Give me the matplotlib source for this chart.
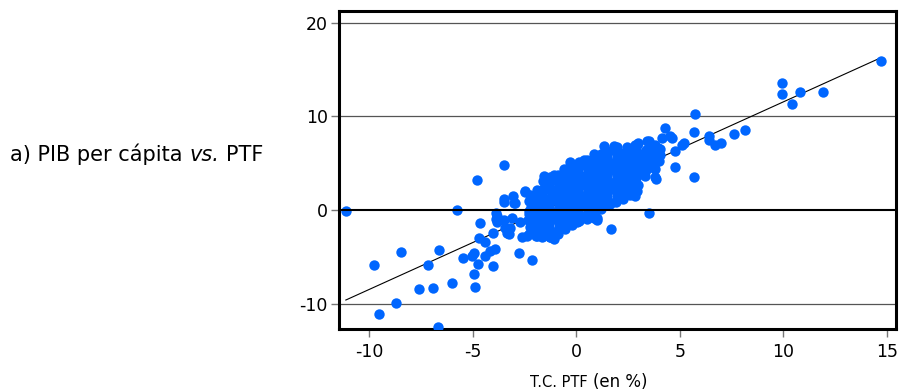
import matplotlib
matplotlib.use("Agg")
import matplotlib.pyplot as plt

plt.rcParams["font.family"] = ["DejaVu Sans"]
plt.rcParams["axes.unicode_minus"] = False

# Tasa de crecimiento de la PTF (x) frente a la del PIB per cápita (y), en %
tail_low = [
    (-11.13, -0.05), (-9.79, -5.85), (-9.51, -11.05), (-8.71, -9.95), (-8.47, -4.5),
    (-7.62, -8.45), (-6.94, -8.3), (-7.17, -5.8), (-6.65, -4.2), (-6.69, -12.5),
    (-6.02, -7.8), (-5.76, 0.0), (-4.8, 3.2), (-4.88, -8.2), (-4.96, -6.8),
    (-4.64, -1.4), (-5.47, -5.1), (-5.04, -4.85), (-4.93, -4.6), (-4.75, -5.7),
    (-4.72, -3.0), (-4.4, -3.4), (-4.43, -4.85), (-4.04, -6.0), (-3.95, -4.1),
    (-4.15, -4.3), (-4.0, -2.4), (-3.9, -0.96), (-3.9, -0.25), (-3.5, 0.9),
    (-3.06, 1.5), (-2.95, 0.75), (-2.5, 1.95), (-2.75, -4.6), (-2.16, -5.3),
    (-3.5, -1.1), (-3.2, -1.85), (-3.35, -2.4), (-2.6, -2.9), (-3.1, -0.8),
    (-3.5, 4.85), (-3.5, 1.2), (-3.03, 0.8), (-3.83, -0.6), (-3.83, -1.3),
    (-3.43, -1.85), (-3.27, -2.55), (-2.7, -1.3), (-2.38, -2.7), (-2.06, -0.6),
    (-2.3, -0.07), (-2.14, -2.0),
]

core = [
    (-0.29, 5.1), (0.84, 6.0), (1.48, 6.3), (1.97, 6.7), (2.85, 7.0), (3.4, 7.4),
    (-0.45, 4.4), (-1.26, 3.5), (-1.74, 1.9), (-2.46, 2.05), (0.35, 5.4), (-0.61, 4.4),
    (-1.1, 3.8), (-1.58, 3.65), (1.32, 6.85),
    (-1.66, -2.9), (-0.93, -2.4), (0.03, -1.1), (1.0, -0.8), (-1.26, -2.2), (-1.6, -2.7),
    (0.03, -1.3), (1.0, -1.0), (-0.29, -0.6), (-1.1, -3.1), (-1.58, -2.4), (-1.26, -2.9),
    (-1.9, -2.7), (-1.42, -2.4), (-1.58, -0.25), (-1.74, 1.2), (-1.1, 2.2),
    (-2.3, -2.5), (-2.25, -1.8), (-2.35, -1.1), (-2.3, -0.4), (-2.2, 0.3), (-2.3, 1.0),
    (-2.25, 1.6),
    (-1.95, -2.8), (-1.9, -2.1), (-2.0, -1.4), (-1.95, -0.7), (-1.9, 0.0), (-2.0, 0.7),
    (-1.95, 1.4), (-1.9, 2.1),
    (-1.6, -2.5), (-1.55, -1.8), (-1.65, -1.1), (-1.6, -0.4), (-1.55, 0.3), (-1.6, 1.0),
    (-1.65, 1.7), (-1.55, 2.4), (-1.6, 3.1),
    (-1.25, -2.9), (-1.2, -2.2), (-1.3, -1.5), (-1.25, -0.8), (-1.2, -0.1), (-1.3, 0.6),
    (-1.25, 1.3), (-1.2, 2.0), (-1.3, 2.7), (-1.25, 3.4),
    (-0.9, -2.5), (-0.85, -1.8), (-0.95, -1.1), (-0.9, -0.4), (-0.85, 0.3), (-0.95, 1.0),
    (-0.9, 1.7), (-0.85, 2.4), (-0.95, 3.1), (-0.9, 3.8),
    (-0.55, -2.0), (-0.5, -1.3), (-0.6, -0.6), (-0.55, 0.1), (-0.5, 0.8), (-0.6, 1.5),
    (-0.55, 2.2), (-0.5, 2.9), (-0.6, 3.6), (-0.55, 4.3),
    (-0.2, -1.6), (-0.15, -0.9), (-0.25, -0.2), (-0.2, 0.5), (-0.15, 1.2), (-0.25, 1.9),
    (-0.2, 2.6), (-0.15, 3.3), (-0.25, 4.0), (-0.2, 4.7),
    (0.15, -1.2), (0.2, -0.5), (0.1, 0.2), (0.15, 0.9), (0.2, 1.6), (0.1, 2.3),
    (0.15, 3.0), (0.2, 3.7), (0.1, 4.4), (0.15, 5.1),
    (0.5, -0.9), (0.55, -0.2), (0.45, 0.5), (0.5, 1.2), (0.55, 1.9), (0.45, 2.6),
    (0.5, 3.3), (0.55, 4.0), (0.45, 4.7), (0.5, 5.4),
    (0.85, -0.8), (0.9, -0.1), (0.8, 0.6), (0.85, 1.3), (0.9, 2.0), (0.8, 2.7),
    (0.85, 3.4), (0.9, 4.1), (0.8, 4.8), (0.85, 5.5),
    (1.2, 0.1), (1.25, 0.6), (1.15, 1.1), (1.2, 1.8), (1.25, 2.5), (1.15, 3.2),
    (1.2, 3.9), (1.25, 4.6), (1.15, 5.3), (1.2, 6.0),
    (1.55, 0.6), (1.6, 0.9), (1.5, 1.6), (1.55, 2.3), (1.6, 3.0), (1.5, 3.7),
    (1.55, 4.4), (1.6, 5.1), (1.5, 5.8),
    (1.9, 0.9), (1.95, 1.4), (1.85, 2.1), (1.9, 2.8), (1.95, 3.5), (1.85, 4.2),
    (1.9, 4.9), (1.95, 5.6), (1.85, 6.3),
    (2.25, 1.2), (2.3, 1.9), (2.2, 2.6), (2.25, 3.3), (2.3, 4.0), (2.2, 4.7),
    (2.25, 5.4), (2.3, 6.1),
    (2.6, 1.6), (2.65, 2.3), (2.55, 3.0), (2.6, 3.7), (2.65, 4.4), (2.55, 5.1),
    (2.6, 5.8), (2.65, 6.5),
    (2.95, 2.0), (3.0, 2.7), (2.9, 3.4), (2.95, 4.1), (3.0, 4.8), (2.9, 5.5), (2.95, 6.2),
    (3.3, 3.6), (3.35, 4.3), (3.25, 5.0), (3.3, 5.7), (3.35, 6.4),
    (3.65, 4.6), (3.7, 5.3), (3.6, 6.0), (3.65, 6.7),
    (4.0, 5.2), (4.05, 5.9), (3.95, 6.6),
]

tail_high = [
    (14.73, 15.95), (9.94, 13.6), (9.94, 12.35), (10.82, 12.6), (10.42, 11.3),
    (11.9, 12.6), (5.75, 10.3), (8.16, 8.6), (7.6, 8.15), (7.0, 7.2), (6.7, 6.95),
    (6.4, 7.9), (6.4, 7.5), (5.67, 8.3), (5.18, 7.2), (5.1, 7.0), (4.78, 6.3),
    (4.78, 4.6), (5.67, 3.5), (3.86, 3.3), (3.74, 4.7), (4.3, 8.8), (4.54, 7.9),
    (4.62, 7.7), (3.5, 7.4), (2.93, 7.0), (4.14, 7.7), (4.06, 6.5), (3.25, 5.8),
    (3.53, -0.3), (1.69, -2.0), (3.82, 3.5), (3.82, 4.4), (3.57, 5.1), (3.5, 6.1),
    (3.82, 7.0), (3.0, 7.2), (2.45, 6.7), (1.8, 6.85), (1.4, 6.3), (2.93, 6.1),
    (2.85, 2.6), (2.85, 1.5), (2.13, 1.7), (1.64, 0.64), (1.97, 2.6), (3.17, 4.0),
    (3.25, 4.9),
]

# Recta de regresión: pib = pendiente * ptf + constante
fit_slope = 1.0
fit_intercept = 1.55

x_ticks = [-10, -5, 0, 5, 10, 15]
y_ticks = [-10, 0, 10, 20]
grid_levels = [-10, 10, 20]

points = tail_low + core + tail_high
ptf = [p[0] for p in points]
pib = [p[1] for p in points]

W, H = 899, 392
fig = plt.figure(figsize=(W / 100, H / 100), dpi=100)
ax = fig.add_axes([339 / W, 1 - 329 / H, (896 - 339) / W, (329 - 11) / H])
ax.set_xlim(-11.46, 15.44)
ax.set_ylim(-12.67, 21.24)

for lvl in grid_levels:
    ax.axhline(lvl, color="#555555", lw=0.9, zorder=1)
ax.axhline(0, color="black", lw=1.5, zorder=4)

x0, x1 = min(ptf), max(ptf)
ax.plot([x0, x1], [fit_slope * x0 + fit_intercept, fit_slope * x1 + fit_intercept],
        color="black", lw=0.8, zorder=2)

ax.scatter(ptf, pib, s=56, color="#0066ff", linewidths=0, zorder=3)

for side in ax.spines.values():
    side.set_linewidth(2.2)
    side.set_color("black")

ax.set_xticks(x_ticks)
ax.set_yticks(y_ticks)
ax.tick_params(axis="both", direction="out", length=6, width=1, color="#777777",
               labelsize=12.5)
ax.tick_params(axis="x", pad=4)
ax.tick_params(axis="y", pad=2)

# Eje X: "T.C. PTF" en versalitas y "(en %)" en tamaño normal
xl1 = fig.text(530 / W, 5 / H, "T.C. PTF", fontsize=10.5, va="baseline", ha="left")
ax.annotate("(en %)", xy=(1, 5 / H), xycoords=(xl1, "figure fraction"),
            xytext=(4, 0), textcoords="offset points", fontsize=12, va="baseline",
            ha="left", annotation_clip=False)

# Etiqueta del panel
t1 = fig.text(10 / W, (H - 161) / H, "a) PIB per cápita", fontsize=15, va="baseline")
t2 = ax.annotate("vs.", xy=(1, (H - 161) / H), xycoords=(t1, "figure fraction"),
                 xytext=(4.8, 0), textcoords="offset points", fontsize=15,
                 style="italic", va="baseline", ha="left", annotation_clip=False)
ax.annotate("PTF", xy=(1, (H - 161) / H), xycoords=(t2, "figure fraction"),
            xytext=(4.8, 0), textcoords="offset points", fontsize=15,
            va="baseline", ha="left", annotation_clip=False)

fig.savefig("out.png", dpi=100)
